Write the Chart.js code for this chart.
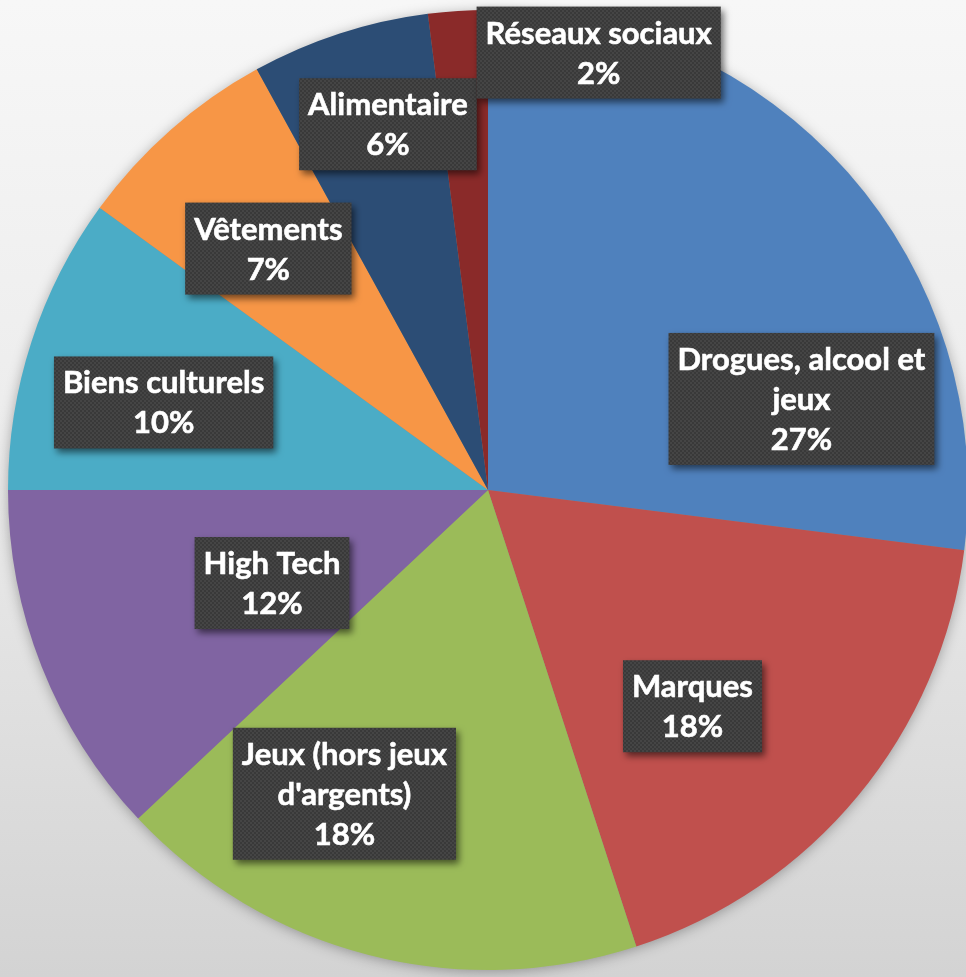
<!DOCTYPE html>
<html>
<head>
<meta charset="utf-8">
<script src="https://cdn.jsdelivr.net/npm/chart.js@4/dist/chart.umd.min.js"></script>
<style>
    html, body {
        margin: 0;
        padding: 0;
        overflow: hidden;
        width: 966px;
        height: 977px;
        background: linear-gradient(to bottom, #f7f7f7 0%, #ececec 45%, #d3d3d3 100%);
    }
    #wrap {
        position: absolute;
        left: 0;
        top: 0;
        width: 976px;
        height: 977px;
    }
</style>
</head>
<body>
<div id="wrap"><canvas id="pieChart"></canvas></div>
<script>
// Data
const categories = [
    'Drogues, alcool et\njeux',
    'Marques',
    'Jeux (hors jeux\nd\'argents)',
    'High Tech',
    'Biens culturels',
    'Vêtements',
    'Alimentaire',
    'Réseaux sociaux'
];
const shares = [27, 18, 18, 12, 10, 7, 6, 2];
const sliceColors = ['#4f81bd', '#c0504d', '#9bbb59', '#8064a2', '#4bacc6', '#f79646', '#2c4d75', '#8a2a29'];

// Label placement: angle nudge (deg, clockwise) and fraction of radius
const labelShift = [25.2, 7, 10.9, -1.7, -2.9, -0.9, 2.7, 17.8];
const labelRadius = [0.68, 0.62, 0.70, 0.49, 0.70, 0.68, 0.79, 0.94];

// Dotted dark texture for the label boxes
function makeBoxPattern(ctx) {
    const p = document.createElement('canvas');
    p.width = 4;
    p.height = 4;
    const pc = p.getContext('2d');
    pc.fillStyle = '#393939';
    pc.fillRect(0, 0, 4, 4);
    pc.fillStyle = '#454545';
    pc.fillRect(0, 0, 2, 2);
    pc.fillRect(2, 2, 2, 2);
    return ctx.createPattern(p, 'repeat');
}

// Soft shadow behind the pie
const pieShadow = {
    id: 'pieShadow',
    beforeDatasetsDraw(chart) {
        const arc = chart.getDatasetMeta(0).data[0];
        if (!arc) return;
        const ctx = chart.ctx;
        ctx.save();
        ctx.shadowColor = 'rgba(0,0,0,0.35)';
        ctx.shadowBlur = 14;
        ctx.shadowOffsetX = 0;
        ctx.shadowOffsetY = 2;
        ctx.fillStyle = '#888';
        ctx.beginPath();
        ctx.arc(arc.x, arc.y, arc.outerRadius - 1, 0, Math.PI * 2);
        ctx.fill();
        ctx.restore();
    }
};

// Boxed data labels
const boxLabels = {
    id: 'boxLabels',
    afterDatasetsDraw(chart) {
        const ctx = chart.ctx;
        const meta = chart.getDatasetMeta(0);
        const pattern = makeBoxPattern(ctx);
        const lineH = 40;
        const padX = 9;
        const padY = 6;
        ctx.save();
        ctx.font = 'bold 31px Lato, "Open Sans", sans-serif';
        ctx.textAlign = 'center';
        ctx.textBaseline = 'middle';
        meta.data.forEach((arc, i) => {
            const mid = (arc.startAngle + arc.endAngle) / 2 + labelShift[i] * Math.PI / 180;
            const r = arc.outerRadius * labelRadius[i];
            const cx = arc.x + Math.cos(mid) * r;
            const cy = arc.y + Math.sin(mid) * r;
            const lines = categories[i].split('\n').concat([shares[i] + '%']);
            const w = Math.max(...lines.map(l => ctx.measureText(l).width)) + padX * 2;
            const h = lines.length * lineH + padY * 2;

            ctx.save();
            ctx.shadowColor = 'rgba(0,0,0,0.55)';
            ctx.shadowBlur = 7;
            ctx.shadowOffsetX = 3;
            ctx.shadowOffsetY = 4;
            ctx.fillStyle = pattern;
            ctx.fillRect(cx - w / 2, cy - h / 2, w, h);
            ctx.restore();

            ctx.fillStyle = '#ffffff';
            ctx.strokeStyle = '#ffffff';
            ctx.lineWidth = 0.6;
            lines.forEach((l, k) => {
                const ty = cy - h / 2 + padY + lineH * (k + 0.5) + 1;
                ctx.fillText(l, cx, ty);
                ctx.strokeText(l, cx, ty);
            });
        });
        ctx.restore();
    }
};

document.addEventListener('DOMContentLoaded', function() {
    const ctx = document.getElementById('pieChart').getContext('2d');
    new Chart(ctx, {
        type: 'pie',
        data: {
            labels: categories,
            datasets: [{
                data: shares,
                backgroundColor: sliceColors,
                borderWidth: 0
            }]
        },
        options: {
            responsive: true,
            maintainAspectRatio: false,
            animation: false,
            layout: {
                padding: { left: 8, right: 8, top: 10, bottom: 7 }
            },
            plugins: {
                legend: { display: false },
                tooltip: { enabled: false }
            }
        },
        plugins: [pieShadow, boxLabels]
    });
});
</script>
</body>
</html>
